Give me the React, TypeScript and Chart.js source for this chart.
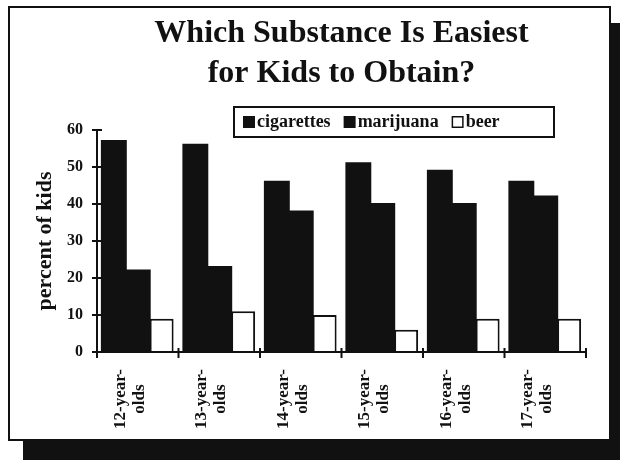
import { useEffect, useRef } from 'react';
import { Chart, registerables } from 'chart.js';

Chart.register(...registerables);

const categoryLines: string[][] = [
  ['12-year-', 'olds'],
  ['13-year-', 'olds'],
  ['14-year-', 'olds'],
  ['15-year-', 'olds'],
  ['16-year-', 'olds'],
  ['17-year-', 'olds'],
];
const categories = categoryLines.map((l) => l.join(''));
const cigarettes = [57, 56, 46, 51, 49, 46];
const marijuana = [22, 23, 38, 40, 40, 42];
const beer = [9, 11, 10, 6, 9, 9];
const seriesNames = ['cigarettes', 'marijuana', 'beer'];
const titleLines = ['Which Substance Is Easiest', 'for Kids to Obtain?'];
const yAxisTitle = 'percent of kids';
const yMin = 0;
const yMax = 60;
const yStep = 10;

const INK = '#111111';
const SERIF = '"Liberation Serif", "Times New Roman", serif';

const framePlugin = {
  id: 'frame',
  beforeDraw(chart: any) {
    const { ctx, width, height } = chart;
    ctx.save();
    ctx.fillStyle = '#ffffff';
    ctx.fillRect(0, 0, width, height);
    ctx.fillStyle = INK;
    ctx.fillRect(23, 23, width - 23, height - 23);
    ctx.fillStyle = '#ffffff';
    ctx.fillRect(9, 7, 601, 433);
    ctx.strokeStyle = INK;
    ctx.lineWidth = 2;
    ctx.strokeRect(9, 7, 601, 433);
    ctx.restore();
  },
};

const axesPlugin = {
  id: 'axesCross',
  afterDatasetsDraw(chart: any) {
    const { ctx, chartArea } = chart;
    const xs = chart.scales.x;
    const ys = chart.scales.y;
    const left = chartArea.left;
    const right = chartArea.right;
    const y0 = ys.getPixelForValue(yMin);
    const yTop = ys.getPixelForValue(yMax);
    ctx.save();
    ctx.strokeStyle = INK;
    ctx.lineWidth = 2;
    ctx.beginPath();
    ctx.moveTo(left, yTop);
    ctx.lineTo(left, y0 + 1);
    ctx.moveTo(left - 1, y0);
    ctx.lineTo(right + 1, y0);
    ys.ticks.forEach((t: any) => {
      const py = ys.getPixelForValue(t.value);
      ctx.moveTo(left - 5, py);
      ctx.lineTo(left + 5, py);
    });
    for (let i = 0; i <= categories.length; i++) {
      const px = xs.getPixelForValue(i - 0.5);
      ctx.moveTo(px, y0 - 4);
      ctx.lineTo(px, y0 + 6);
    }
    ctx.stroke();
    ctx.restore();
  },
  afterDraw(chart: any) {
    const { ctx, chartArea } = chart;
    const xs = chart.scales.x;
    ctx.save();
    // Title centred over the plot area
    ctx.fillStyle = INK;
    ctx.textAlign = 'center';
    ctx.textBaseline = 'alphabetic';
    ctx.font = `bold 32px ${SERIF}`;
    const cx = (chartArea.left + chartArea.right) / 2;
    titleLines.forEach((line, i) => {
      ctx.fillText(line, cx, 42 + i * 40);
    });

    // Legend box
    ctx.fillStyle = '#ffffff';
    ctx.fillRect(234, 107, 320, 30);
    ctx.strokeStyle = INK;
    ctx.lineWidth = 2;
    ctx.strokeRect(234, 107, 320, 30);
    ctx.font = `bold 18px ${SERIF}`;
    ctx.textAlign = 'left';
    let lx = 243;
    chart.data.datasets.forEach((ds: any) => {
      ctx.fillStyle = ds.backgroundColor;
      ctx.fillRect(lx, 116, 12, 12);
      if (ds.borderWidth) {
        ctx.strokeStyle = INK;
        ctx.lineWidth = 1.5;
        ctx.strokeRect(lx + 0.75, 116.75, 10.5, 10.5);
      }
      ctx.fillStyle = INK;
      ctx.fillText(ds.label, lx + 14, 127);
      lx += 14 + ctx.measureText(ds.label).width + 13;
    });

    // Rotated two-line category labels
    ctx.font = `bold 17px ${SERIF}`;
    ctx.textAlign = 'center';
    ctx.fillStyle = INK;
    categoryLines.forEach((lines, i) => {
      const px = xs.getPixelForValue(i);
      ctx.save();
      ctx.translate(px, 399);
      ctx.rotate(-Math.PI / 2);
      ctx.fillText(lines[0], 0, -13);
      ctx.fillText(lines[1], 0, 6);
      ctx.restore();
    });
    ctx.restore();
  },
};

export default function App() {
  const ref = useRef<HTMLCanvasElement | null>(null);
  useEffect(() => {
    document.body.style.margin = '0';
    const canvas = ref.current;
    if (!canvas) return;
    const chart = new Chart(canvas, {
      type: 'bar',
      data: {
        labels: categories,
        datasets: [
          {
            label: seriesNames[0],
            data: cigarettes,
            backgroundColor: INK,
            borderWidth: 0,
            inflateAmount: 1,
          },
          {
            label: seriesNames[1],
            data: marijuana,
            backgroundColor: INK,
            borderWidth: 0,
            inflateAmount: 1,
          },
          {
            label: seriesNames[2],
            data: beer,
            backgroundColor: '#ffffff',
            borderColor: INK,
            borderWidth: 2,
          },
        ],
      },
      options: {
        responsive: false,
        animation: false,
        devicePixelRatio: 1,
        layout: { padding: { top: 130, right: 34, left: 0, bottom: 0 } },
        datasets: { bar: { categoryPercentage: 0.88, barPercentage: 1.0 } },
        plugins: {
          legend: { display: false },
          title: { display: false },
          tooltip: { enabled: false },
        },
        scales: {
          x: {
            grid: { display: false, drawTicks: false },
            border: { display: false },
            ticks: { display: false },
            afterFit: (s: any) => {
              s.height = 108;
            },
          },
          y: {
            min: yMin,
            max: yMax,
            grid: { display: false, drawTicks: false },
            border: { display: false },
            ticks: {
              stepSize: yStep,
              padding: 14,
              color: INK,
              font: { family: SERIF, size: 16, weight: 'bold' },
            },
            title: {
              display: true,
              text: yAxisTitle,
              color: INK,
              font: { family: SERIF, size: 22, weight: 'bold' },
              padding: { top: 32, bottom: 0 },
            },
            afterFit: (s: any) => {
              s.width = 97;
            },
          },
        },
      },
      plugins: [framePlugin, axesPlugin],
    });
    return () => chart.destroy();
  }, []);
  return <canvas ref={ref} width={620} height={460} style={{ display: 'block' }} />;
}
